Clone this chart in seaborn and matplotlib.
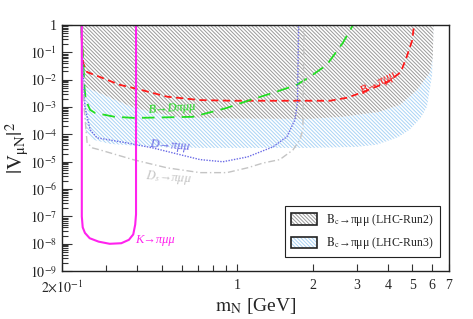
import numpy as np
import pandas as pd
import matplotlib
matplotlib.use('Agg')
import matplotlib.pyplot as plt
import seaborn as sns
from matplotlib.patches import Patch
from matplotlib.legend_handler import HandlerTuple
from matplotlib.ticker import FixedLocator, LogLocator, NullFormatter

# hatched sensitivity regions (lower edge, upper edge is |V|^2 = 1)
run2_m = [0.237, 0.243, 0.247, 0.305, 0.381, 0.47, 0.59, 1.0, 1.95, 2.64, 3.71, 4.47, 5.22, 5.88, 6.04, 6.08]
run2_lo = [1, 3e-2, 5.5e-3, 2.4e-3, 1.0e-3, 6.2e-4, 4.2e-4, 3.8e-4, 3.7e-4, 4.4e-4, 6.7e-4, 1.2e-3, 4.2e-3, 1.8e-2, 6.8e-2, 1]
run3_m = [0.237, 0.245, 0.249, 0.264, 0.311, 0.449, 0.711, 1.95, 3.0, 3.61, 4.4, 4.89, 5.4, 5.72, 6.0, 6.08]
run3_lo = [1, 1e-3, 1.2e-4, 6.5e-5, 4.5e-5, 3.5e-5, 3.2e-5, 3.2e-5, 3.5e-5, 4.2e-5, 8e-5, 1.5e-4, 4e-4, 1e-3, 1.5e-2, 1]

# limit curves
b_m = [0.238, 0.243, 0.252, 0.284, 0.34, 0.40, 0.525, 0.71, 0.96, 1.5, 2.35, 2.75, 3.2, 4.0, 4.5, 4.75, 5.0, 5.08]
b_v = [1, 4e-2, 1.9e-2, 1.25e-2, 6.5e-3, 4.6e-3, 2.4e-3, 1.8e-3, 1.7e-3, 1.7e-3, 1.7e-3, 2.2e-3, 3.6e-3, 8.3e-3, 1.9e-2, 6.8e-2, 0.28, 1]
bd_m = [0.238, 0.243, 0.246, 0.249, 0.259, 0.271, 0.325, 0.391, 0.666, 0.91, 1.125, 1.39, 1.73, 1.95, 2.28, 2.64, 2.90]
bd_v = [1, 5e-2, 5e-3, 1.8e-3, 7.9e-4, 6.1e-4, 4.4e-4, 4.0e-4, 4.4e-4, 9.3e-4, 1.8e-3, 3.3e-3, 6.5e-3, 1.27e-2, 3.5e-2, 0.22, 1]
d_m = [0.238, 0.244, 0.247, 0.259, 0.276, 0.363, 0.461, 0.711, 0.877, 1.10, 1.39, 1.58, 1.70, 1.74, 1.76]
d_v = [1, 1e-2, 1e-3, 1.5e-4, 7.5e-5, 4.9e-5, 3.2e-5, 1.2e-5, 1e-5, 1.5e-5, 3.5e-5, 8.2e-5, 3.4e-4, 1.4e-3, 1]
ds_m = [0.238, 0.245, 0.252, 0.265, 0.284, 0.384, 0.525, 0.711, 0.91, 1.10, 1.27, 1.48, 1.67, 1.78, 1.83, 1.85]
ds_v = [1, 1e-3, 4.9e-5, 3.2e-5, 2.7e-5, 1.2e-5, 6e-6, 4e-6, 4e-6, 6e-6, 9e-6, 1.2e-5, 2.7e-5, 6.3e-5, 1.5e-4, 1]
k_m = [0.240, 0.240, 0.242, 0.247, 0.258, 0.28, 0.31, 0.345, 0.37, 0.385, 0.392, 0.395, 0.395]
k_v = [1, 1e-7, 4e-8, 2.5e-8, 1.6e-8, 1.2e-8, 1.0e-8, 1.05e-8, 1.4e-8, 2.2e-8, 5e-8, 1.2e-7, 1]

x_ticks = [0.2, 1, 2, 3, 4, 5, 6, 7]
x_labels = [r'$2{\times}10^{-1}$', '1', '2', '3', '4', '5', '6', '7']
y_ticks = [10.0 ** e for e in range(-9, 1)]
y_labels = [r'$10^{%d}$' % e for e in range(-9, 0)] + ['1']

sns.set_style('ticks')
plt.rcParams['font.family'] = ['Liberation Serif', 'DejaVu Serif']
plt.rcParams['mathtext.fontset'] = 'stix'
plt.rcParams['hatch.linewidth'] = 0.7

fig = plt.figure(figsize=(4.73, 3.19), dpi=100)
ax = fig.add_axes([0.131, 0.150, 0.818, 0.7716])
ax.set_xscale('log')
ax.set_yscale('log')

hatch = '\\' * 9
ax.fill_between(run3_m, run3_lo, 1, facecolor='white', edgecolor='#a9d3f5', hatch=hatch, linewidth=0)
ax.fill_between(run2_m, run2_lo, 1, facecolor='white', edgecolor='#9a9a9a', hatch=hatch, linewidth=0)

curves = [
    (b_m, b_v, '#ff1a1a', (4, 2.5), 1.3),
    (bd_m, bd_v, '#22dd22', (7, 4), 1.3),
    (d_m, d_v, '#6a6ae6', (1, 1), 1.0),
    (ds_m, ds_v, '#c4c4c4', (5, 2, 1, 2), 1.0),
    (k_m, k_v, '#ff22ee', None, 1.5),
]
for m, v, c, dash, lw in curves:
    df = pd.DataFrame({'m': m, 'v': v})
    sns.lineplot(data=df, x='m', y='v', sort=False, estimator=None, color=c, lw=lw, ax=ax)
    if dash is not None:
        ax.lines[-1].set_dashes(dash)

lab = dict(fontsize=9, style='italic', ha='center', va='center')
ax.text(3.65, 7.6e-3, 'B→πμμ', color='#ff1a1a', rotation=27, **lab)
ax.text(0.55, 9.3e-4, 'B→Dπμμ', color='#22dd22', rotation=4, **lab)
ax.text(0.54, 4.0e-5, 'D→πμμ', color='#6a6ae6', rotation=-4, **lab)
ax.text(0.53, 2.6e-6, r'$D_s$→πμμ', color='#c4c4c4', rotation=-4, **lab)
ax.text(0.47, 1.4e-8, 'K→πμμ', color='#ff22ee', **lab)

ax.set_xlim(0.2, 7)
ax.set_ylim(1e-9, 1)
ax.xaxis.set_major_locator(FixedLocator(x_ticks))
ax.set_xticklabels(x_labels)
ax.xaxis.set_minor_locator(FixedLocator([0.3, 0.4, 0.5, 0.6, 0.7, 0.8, 0.9]))
ax.xaxis.set_minor_formatter(NullFormatter())
ax.yaxis.set_major_locator(FixedLocator(y_ticks))
ax.set_yticklabels(y_labels)
ax.yaxis.set_minor_locator(LogLocator(base=10, subs=np.arange(2, 10), numticks=20))
ax.yaxis.set_minor_formatter(NullFormatter())
ax.tick_params(which='both', direction='in', top=False, right=False, labelsize=10, width=0.8, color='#333333')
ax.tick_params(which='major', length=7)
ax.tick_params(which='minor', length=4)
ax.tick_params(axis='x', which='major', length=5, pad=6)
for s in ax.spines.values():
    s.set_linewidth(1.0)
    s.set_color('#222222')

ax.set_xlabel(r'$\mathrm{m_N}$ [GeV]', fontsize=14, labelpad=0)
ax.set_ylabel(r'$|\mathrm{V_{\mu N}}|^2$', fontsize=15, labelpad=0)

h2 = (Patch(facecolor='white', edgecolor='#9a9a9a', hatch=hatch, linewidth=0),
      Patch(facecolor='none', edgecolor='#222222', linewidth=1.2))
h3 = (Patch(facecolor='white', edgecolor='#a9d3f5', hatch=hatch, linewidth=0),
      Patch(facecolor='none', edgecolor='#222222', linewidth=1.2))
ax.legend([h2, h3], [r'$\mathrm{B_c}$→πμμ (LHC-Run2)', r'$\mathrm{B_c}$→πμμ (LHC-Run3)'],
          handler_map={tuple: HandlerTuple(ndivide=1, pad=0)},
          loc='lower right', bbox_to_anchor=(0.977, 0.057), borderaxespad=0,
          fontsize=8.5, fancybox=False, edgecolor='#222222', framealpha=1,
          handlelength=2.2, handleheight=1.1, labelspacing=0.6, borderpad=0.5)
ax.get_legend().get_frame().set_linewidth(0.8)

fig.savefig('out.png', dpi=100)
